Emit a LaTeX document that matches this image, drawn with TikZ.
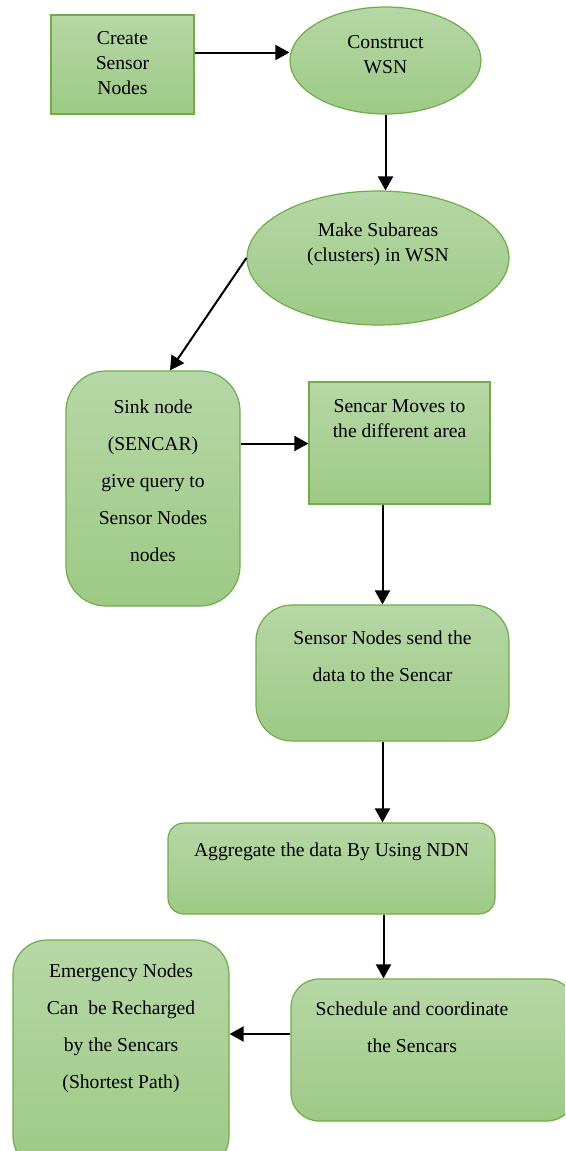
\documentclass[tikz,border=0pt]{standalone}
\usepackage{fontspec}
\setmainfont{Liberation Serif}
\usetikzlibrary{arrows.meta,shapes.geometric}
\definecolor{leafline}{RGB}{112,173,71}
\definecolor{leaftop}{RGB}{182,215,166}
\definecolor{leafbot}{RGB}{157,202,133}

\begin{document}
\begin{tikzpicture}[x=1pt,y=-1pt,font=\fontsize{19.6}{25}\selectfont,
    box/.style={draw=leafline,line width=1.2pt,top color=leaftop,bottom color=leafbot,inner sep=0pt},
    oval/.style={box,ellipse},
    txt/.style={align=center,inner sep=0pt},
    wide/.style={txt,font=\fontsize{19.6}{37}\selectfont},
    flow/.style={line width=2pt,-{Triangle[length=14pt,width=15pt]}}]
      \useasboundingbox (0,0) rectangle (565,1151);
      \clip (0,0) rectangle (565,1151);
      % shapes
      \node[box,minimum width=143pt,minimum height=99pt] (create) at (122.5,64.5) {};
      \node[oval,minimum width=191pt,minimum height=107pt] (construct) at (385.5,60.5) {};
      \node[oval,minimum width=262pt,minimum height=134pt] (subarea) at (378,258) {};
      \node[box,rounded corners=40pt,minimum width=174pt,minimum height=235pt] (sink) at (153,488.5) {};
      \node[box,minimum width=181pt,minimum height=122pt] (sencar) at (399.5,443) {};
      \node[box,rounded corners=36pt,minimum width=253pt,minimum height=136pt] (send) at (382.5,673) {};
      \node[box,rounded corners=16pt,minimum width=327pt,minimum height=91pt] (aggregate) at (331.5,868.5) {};
      \node[box,rounded corners=28pt,minimum width=284pt,minimum height=142pt] (schedule) at (433,1050) {};
      \node[box,rounded corners=34pt,minimum width=216pt,minimum height=230pt] (emergency) at (121,1055) {};
      % texts
      \node[txt] (create-t) at (122.5,63) {Create\\Sensor\\Nodes};
      \node[txt] (construct-t) at (385.5,55) {Construct\\WSN};
      \node[txt] (subarea-t) at (378,244) {Make Subareas\\(clusters) in WSN};
      \node[wide] (sink-t) at (153,481) {Sink node\\(SENCAR)\\give query to\\Sensor Nodes\\nodes};
      \node[txt] (sencar-t) at (399.5,418.5) {Sencar Moves to\\the different area};
      \node[wide] (send-t) at (382.5,656) {Sensor Nodes send the\\data to the Sencar};
      \node[txt] (aggregate-t) at (331.5,852) {Aggregate the data By Using NDN};
      \node[wide] (schedule-t) at (412,1027) {Schedule and coordinate\\the Sencars};
      \node[wide] (emergency-t) at (121,1028) {Emergency Nodes\\Can~~be Recharged\\by the Sencars\\(Shortest Path)};
      % arrows
      \draw[flow] ([yshift=12pt]create.east) -- ([yshift=12pt]create.east -| construct.west);
      \draw[flow] (construct.south) -- (construct.south |- subarea.north);
      \draw[flow] (subarea.west) -- ([xshift=17pt]sink.north);
      \draw[flow] ([yshift=45pt]sink.east) -- ([yshift=45pt]sink.east -| sencar.west);
      \draw[flow] (send.north |- sencar.south) -- (send.north);
      \draw[flow] (send.south) -- (send.south |- aggregate.north);
      \draw[flow] ([xshift=52pt]aggregate.south) -- ([xshift=52pt]aggregate.south |- schedule.north);
      \draw[flow] ([yshift=16pt]schedule.west) -- ([yshift=16pt]schedule.west -| emergency.east);
    \end{tikzpicture}
\end{document}
